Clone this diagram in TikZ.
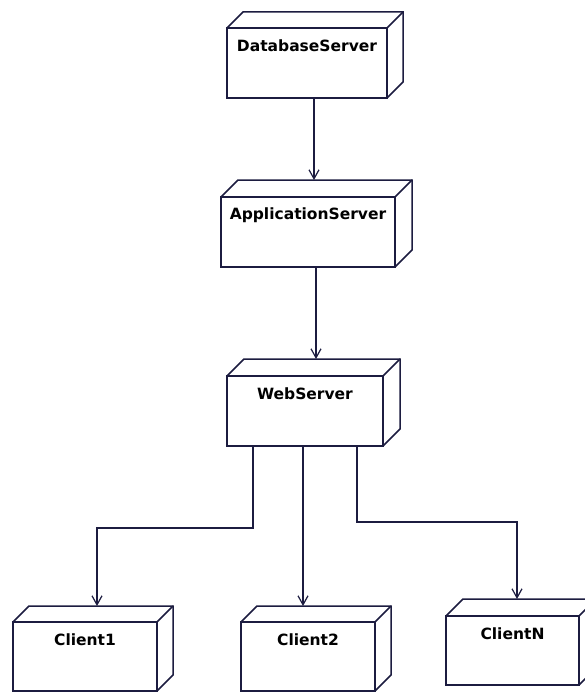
\documentclass[tikz,border=0pt]{standalone}
\usepackage{fontspec}
\setmainfont{DejaVu Sans}
\usetikzlibrary{arrows.meta}
\definecolor{ln}{RGB}{28,28,64}
\newcommand\udnode[7]{% name, x1, y1, x2, y2, depth, text
  \node[box, minimum width={(#4-#2)*1pt}, minimum height={(#5-#3)*1pt}] (#1) at ({(#2+#4)/2},{(#3+#5)/2}) {};
  \draw[edge3d] (#1.north west) -- ++(#6,-#6) -- ([shift={(#6,-#6)}]#1.north east) -- ([shift={(#6,-#6)}]#1.south east) -- (#1.south east);
  \draw[edge3d] (#1.north east) -- ++(#6,-#6);
  \node[lbl] (#1t) at ([yshift=-18pt]#1.north) {#7};
}
\begin{document}
\begin{tikzpicture}[x=1pt,y=-1pt,
  box/.style={draw=ln, line width=1.5pt, fill=white, inner sep=0pt, outer sep=0pt},
  edge3d/.style={draw=ln, line width=1.5pt, line join=miter},
  lbl/.style={font=\fontsize{15.5}{18}\selectfont\bfseries, text=black, inner sep=0pt},
  arr/.style={draw=ln, line width=1.2pt, -{Straight Barb[length=9pt,width=10pt,line width=1.2pt]}}]
\clip (0,0) rectangle (585,693);
\fill[white] (0,0) rectangle (585,693);

\udnode{db}{227}{28}{387}{98}{16}{DatabaseServer}
\udnode{app}{221}{197}{395}{267}{17}{ApplicationServer}
\udnode{web}{227}{376}{383}{446}{17}{WebServer}
\udnode{cone}{13}{622}{157}{691}{16}{Client1}
\udnode{ctwo}{241}{622}{375}{691}{16}{Client2}
\udnode{cn}{446}{616}{579}{685}{17}{ClientN}

\coordinate (appT) at (314,180);
\draw[arr] (db.south -| appT) -- (appT);
\coordinate (webT) at (316,359);
\draw[arr] (app.south -| webT) -- (webT);
\coordinate (c1T) at (97,606);
\coordinate (e1) at (253,528);
\draw[arr] (web.south -| e1) -- (e1) -- (e1 -| c1T) -- (c1T);
\coordinate (c2T) at (303,606);
\draw[arr] (web.south -| c2T) -- (c2T);
\coordinate (cnT) at (517,599);
\coordinate (e3) at (357,522);
\draw[arr] (web.south -| e3) -- (e3) -- (e3 -| cnT) -- (cnT);
\end{tikzpicture}
\end{document}
